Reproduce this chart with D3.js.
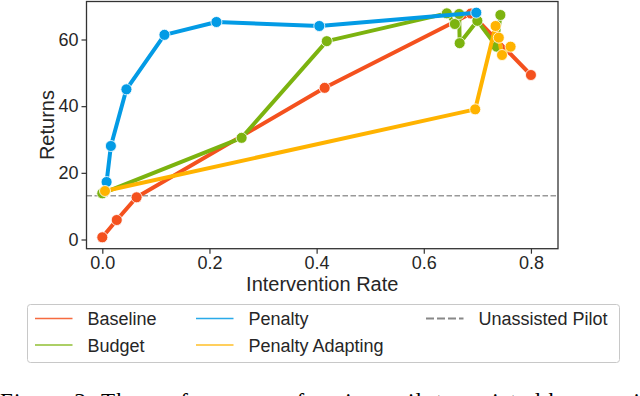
<!DOCTYPE html>
<html>
<head>
<meta charset="utf-8">
<script src="https://cdn.jsdelivr.net/npm/d3@7"></script>
<style>
  html, body { margin: 0; padding: 0; background: #fff; }
  svg { display: block; }
</style>
</head>
<body>
<svg id="chart" width="640" height="396"></svg>
<script>
// ---- data ----
const seriesNames = ["Baseline", "Budget", "Penalty", "Penalty Adapting"];
const baselineX = [0.0, 0.027, 0.064, 0.415, 0.688, 0.80];
const baselineY = [0.66, 5.85, 12.66, 45.5, 67.8, 49.35];
const budgetX = [0.0, 0.26, 0.419, 0.643, 0.658, 0.666, 0.667, 0.70, 0.736, 0.743];
const budgetY = [13.85, 30.5, 59.5, 67.85, 64.65, 67.65, 58.9, 65.6, 57.85, 67.35];
const penaltyX = [0.008, 0.016, 0.045, 0.116, 0.213, 0.405, 0.698];
const penaltyY = [17.25, 28.05, 45.05, 61.4, 65.25, 64.05, 68.05];
const adaptX = [0.005, 0.696, 0.734, 0.74, 0.746, 0.762];
const adaptY = [14.55, 39.05, 64.05, 60.55, 55.35, 57.85];
const unassistedPilot = 13.1;
const xTicks = [0.0, 0.2, 0.4, 0.6, 0.8];
const yTicks = [0, 20, 40, 60];
const xLabel = "Intervention Rate";
const yLabel = "Returns";
const unassistedLabel = "Unassisted Pilot";
const caption = "Figure 3: The performance of various pilots assisted by our ai";

const colors = ["#f4511e", "#7cb30f", "#039be5", "#ffb300"];
const seriesX = [baselineX, budgetX, penaltyX, adaptX];
const seriesY = [baselineY, budgetY, penaltyY, adaptY];

const svg = d3.select("#chart");
const font = "'Liberation Sans', Arial, sans-serif";
const L = 86.5, R = 558, T = 1.5, B = 248.7;

const x = d3.scaleLinear().domain([-0.0295, 0.8505]).range([L, R]);
const y = d3.scaleLinear().domain([-2.76, 71.4]).range([B, T]);

// dashed unassisted line
svg.append("line")
  .attr("x1", L).attr("x2", R)
  .attr("y1", y(unassistedPilot)).attr("y2", y(unassistedPilot))
  .attr("stroke", "#999").attr("stroke-width", 1.5)
  .attr("stroke-dasharray", "5.5,2.5");

// series
const line = d3.line().x(d => x(d[0])).y(d => y(d[1]));
seriesNames.forEach((name, i) => {
  const pts = seriesX[i].map((v, j) => [v, seriesY[i][j]]);
  const g = svg.append("g");
  g.append("path").datum(pts)
    .attr("d", line)
    .attr("fill", "none")
    .attr("stroke", colors[i])
    .attr("stroke-width", 4)
    .attr("stroke-linejoin", "round")
    .attr("stroke-linecap", "round");
  g.selectAll("circle").data(pts).enter().append("circle")
    .attr("cx", d => x(d[0])).attr("cy", d => y(d[1]))
    .attr("r", 5.5)
    .attr("fill", colors[i])
    .attr("stroke", "#fff").attr("stroke-width", 0.8);
});

// frame
svg.append("rect")
  .attr("x", L).attr("y", T).attr("width", R - L).attr("height", B - T)
  .attr("fill", "none").attr("stroke", "#333").attr("stroke-width", 1.3);

// axes
const xAxis = svg.append("g").attr("transform", `translate(0,${B})`)
  .call(d3.axisBottom(x).tickValues(xTicks).tickFormat(d3.format(".1f")).tickSize(5).tickPadding(3));
const yAxis = svg.append("g").attr("transform", `translate(${L},0)`)
  .call(d3.axisLeft(y).tickValues(yTicks).tickSize(5).tickPadding(3));
[xAxis, yAxis].forEach(a => {
  a.select(".domain").remove();
  a.selectAll(".tick line").attr("stroke", "#333").attr("stroke-width", 1.2);
  a.selectAll(".tick text").attr("fill", "#262626")
    .style("font-family", font).style("font-size", "18px");
});

svg.append("text")
  .attr("x", (L + R) / 2).attr("y", 291)
  .attr("text-anchor", "middle")
  .attr("fill", "#262626")
  .style("font-family", font).style("font-size", "20px")
  .text(xLabel);
svg.append("text")
  .attr("transform", `translate(53.5,${(T + B) / 2}) rotate(-90)`)
  .attr("text-anchor", "middle")
  .attr("fill", "#262626")
  .style("font-family", font).style("font-size", "20px")
  .text(yLabel);

// legend
svg.append("rect")
  .attr("x", 27.5).attr("y", 304.5).attr("width", 592).attr("height", 58)
  .attr("rx", 3).attr("fill", "#fff").attr("stroke", "#c8c8c8").attr("stroke-width", 1);
const legendItems = [
  { label: seriesNames[0], color: colors[0], lx: 35, ly: 318.5, dash: null },
  { label: seriesNames[1], color: colors[1], lx: 35, ly: 345, dash: null },
  { label: seriesNames[2], color: colors[2], lx: 196, ly: 318.5, dash: null },
  { label: seriesNames[3], color: colors[3], lx: 196, ly: 345, dash: null },
  { label: unassistedLabel, color: "#888", lx: 426, ly: 318.5, dash: "8,3" }
];
legendItems.forEach(it => {
  svg.append("line")
    .attr("x1", it.lx).attr("x2", it.lx + 37.5)
    .attr("y1", it.ly).attr("y2", it.ly)
    .attr("stroke", it.color)
    .attr("stroke-opacity", it.dash ? 1 : 0.85)
    .attr("stroke-width", it.dash ? 2.2 : 1.5)
    .attr("stroke-dasharray", it.dash);
  svg.append("text")
    .attr("x", it.lx + 52.5).attr("y", it.ly + 6.5)
    .attr("fill", "#262626")
    .style("font-family", font).style("font-size", "18px")
    .text(it.label);
});

// caption (cut off at the bottom, as in the reference)
svg.append("text")
  .attr("x", 0).attr("y", 408.5)
  .attr("fill", "#000")
  .style("font-family", "'Liberation Serif', 'Times New Roman', serif")
  .style("font-size", "23px")
  .attr("textLength", 640)
  .attr("lengthAdjust", "spacing")
  .text(caption);
</script>
</body>
</html>
